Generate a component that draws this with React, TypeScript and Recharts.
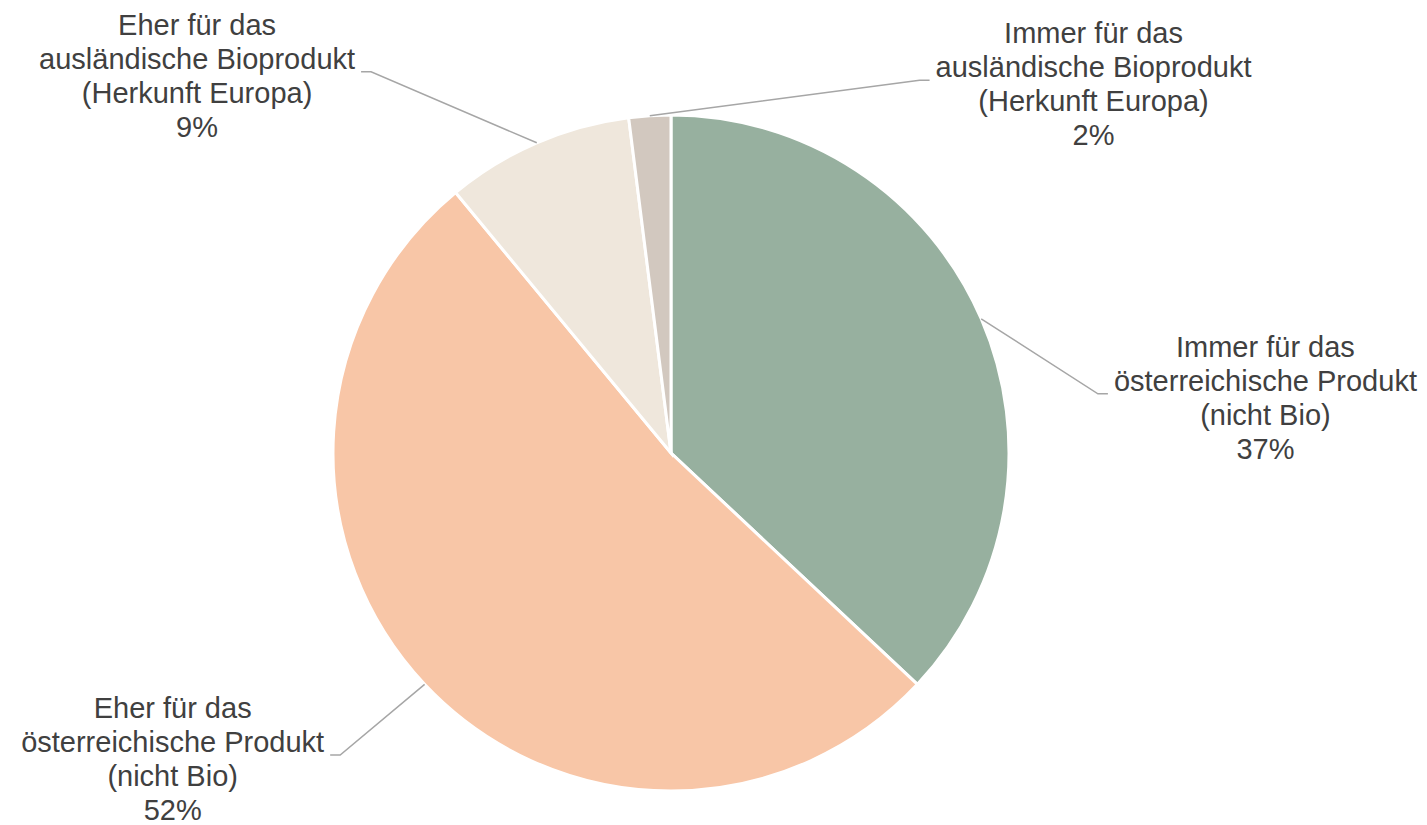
import React from 'react'
import { PieChart, Pie, Cell } from 'recharts'

// slices run clockwise from 12 o'clock
const categories = [
  'Immer für das\nösterreichische Produkt\n(nicht Bio)',
  'Eher für das\nösterreichische Produkt\n(nicht Bio)',
  'Eher für das\nausländische Bioprodukt\n(Herkunft Europa)',
  'Immer für das\nausländische Bioprodukt\n(Herkunft Europa)',
]
const shares = [37, 52, 9, 2]
const colors = ['#97B09F', '#F8C6A7', '#EFE7DC', '#D2C8BF']

// where each leader line bends: angle shift from the slice middle, distance from centre
const labelAngleShift = [-15.5, -0.8, 14.8, -37.3]
const labelDistance = [431, 448, 485, 448]

const data = categories.map((name, i) => ({ name, value: shares[i] }))

const FONT = '"Liberation Sans", Arial, sans-serif'
const FONT_SIZE = 29
const LINE_H = 34
const RAD = Math.PI / 180

let ctx: CanvasRenderingContext2D | null = null
function textWidth(s: string) {
  if (!ctx) ctx = document.createElement('canvas').getContext('2d')
  if (!ctx) return s.length * FONT_SIZE * 0.5
  ctx.font = `${FONT_SIZE}px ${FONT}`
  return ctx.measureText(s).width
}

function renderLabel(props: any) {
  const { cx, cy, midAngle, outerRadius, index, value, name } = props
  const sx = cx + outerRadius * Math.cos(midAngle * RAD)
  const sy = cy - outerRadius * Math.sin(midAngle * RAD)
  const la = midAngle + labelAngleShift[index]
  const ex = cx + labelDistance[index] * Math.cos(la * RAD)
  const ey = cy - labelDistance[index] * Math.sin(la * RAD)
  const side = Math.cos(la * RAD) >= 0 ? 1 : -1
  const lines = [...String(name).split('\n'), `${value}%`]
  const w = Math.max(...lines.map(textWidth))
  const tx = ex + side * (16 + w / 2)
  return (
    <g key={`lbl-${index}`}>
      <polyline
        points={`${sx},${sy} ${ex},${ey} ${ex + side * 10},${ey}`}
        fill="none"
        stroke="#A6A6A6"
        strokeWidth={1.5}
      />
      <text x={tx} y={ey - 37} textAnchor="middle" fill="#404040" fontFamily={FONT} fontSize={FONT_SIZE}>
        {lines.map((l, i) => (
          <tspan key={i} x={tx} y={ey - 37 + i * LINE_H}>
            {l}
          </tspan>
        ))}
      </text>
    </g>
  )
}

export default function App() {
  return (
    <div style={{ position: 'absolute', left: 0, top: 0, background: '#fff' }}>
      <PieChart width={1427} height={825} margin={{ top: 0, right: 0, bottom: 0, left: 0 }}>
        <Pie
          data={data}
          dataKey="value"
          nameKey="name"
          cx={671}
          cy={453}
          outerRadius={338}
          startAngle={90}
          endAngle={-270}
          stroke="#ffffff"
          strokeWidth={3}
          label={renderLabel}
          labelLine={false}
          isAnimationActive={false}
        >
          {data.map((d, i) => (
            <Cell key={d.name} fill={colors[i]} />
          ))}
        </Pie>
      </PieChart>
    </div>
  )
}
